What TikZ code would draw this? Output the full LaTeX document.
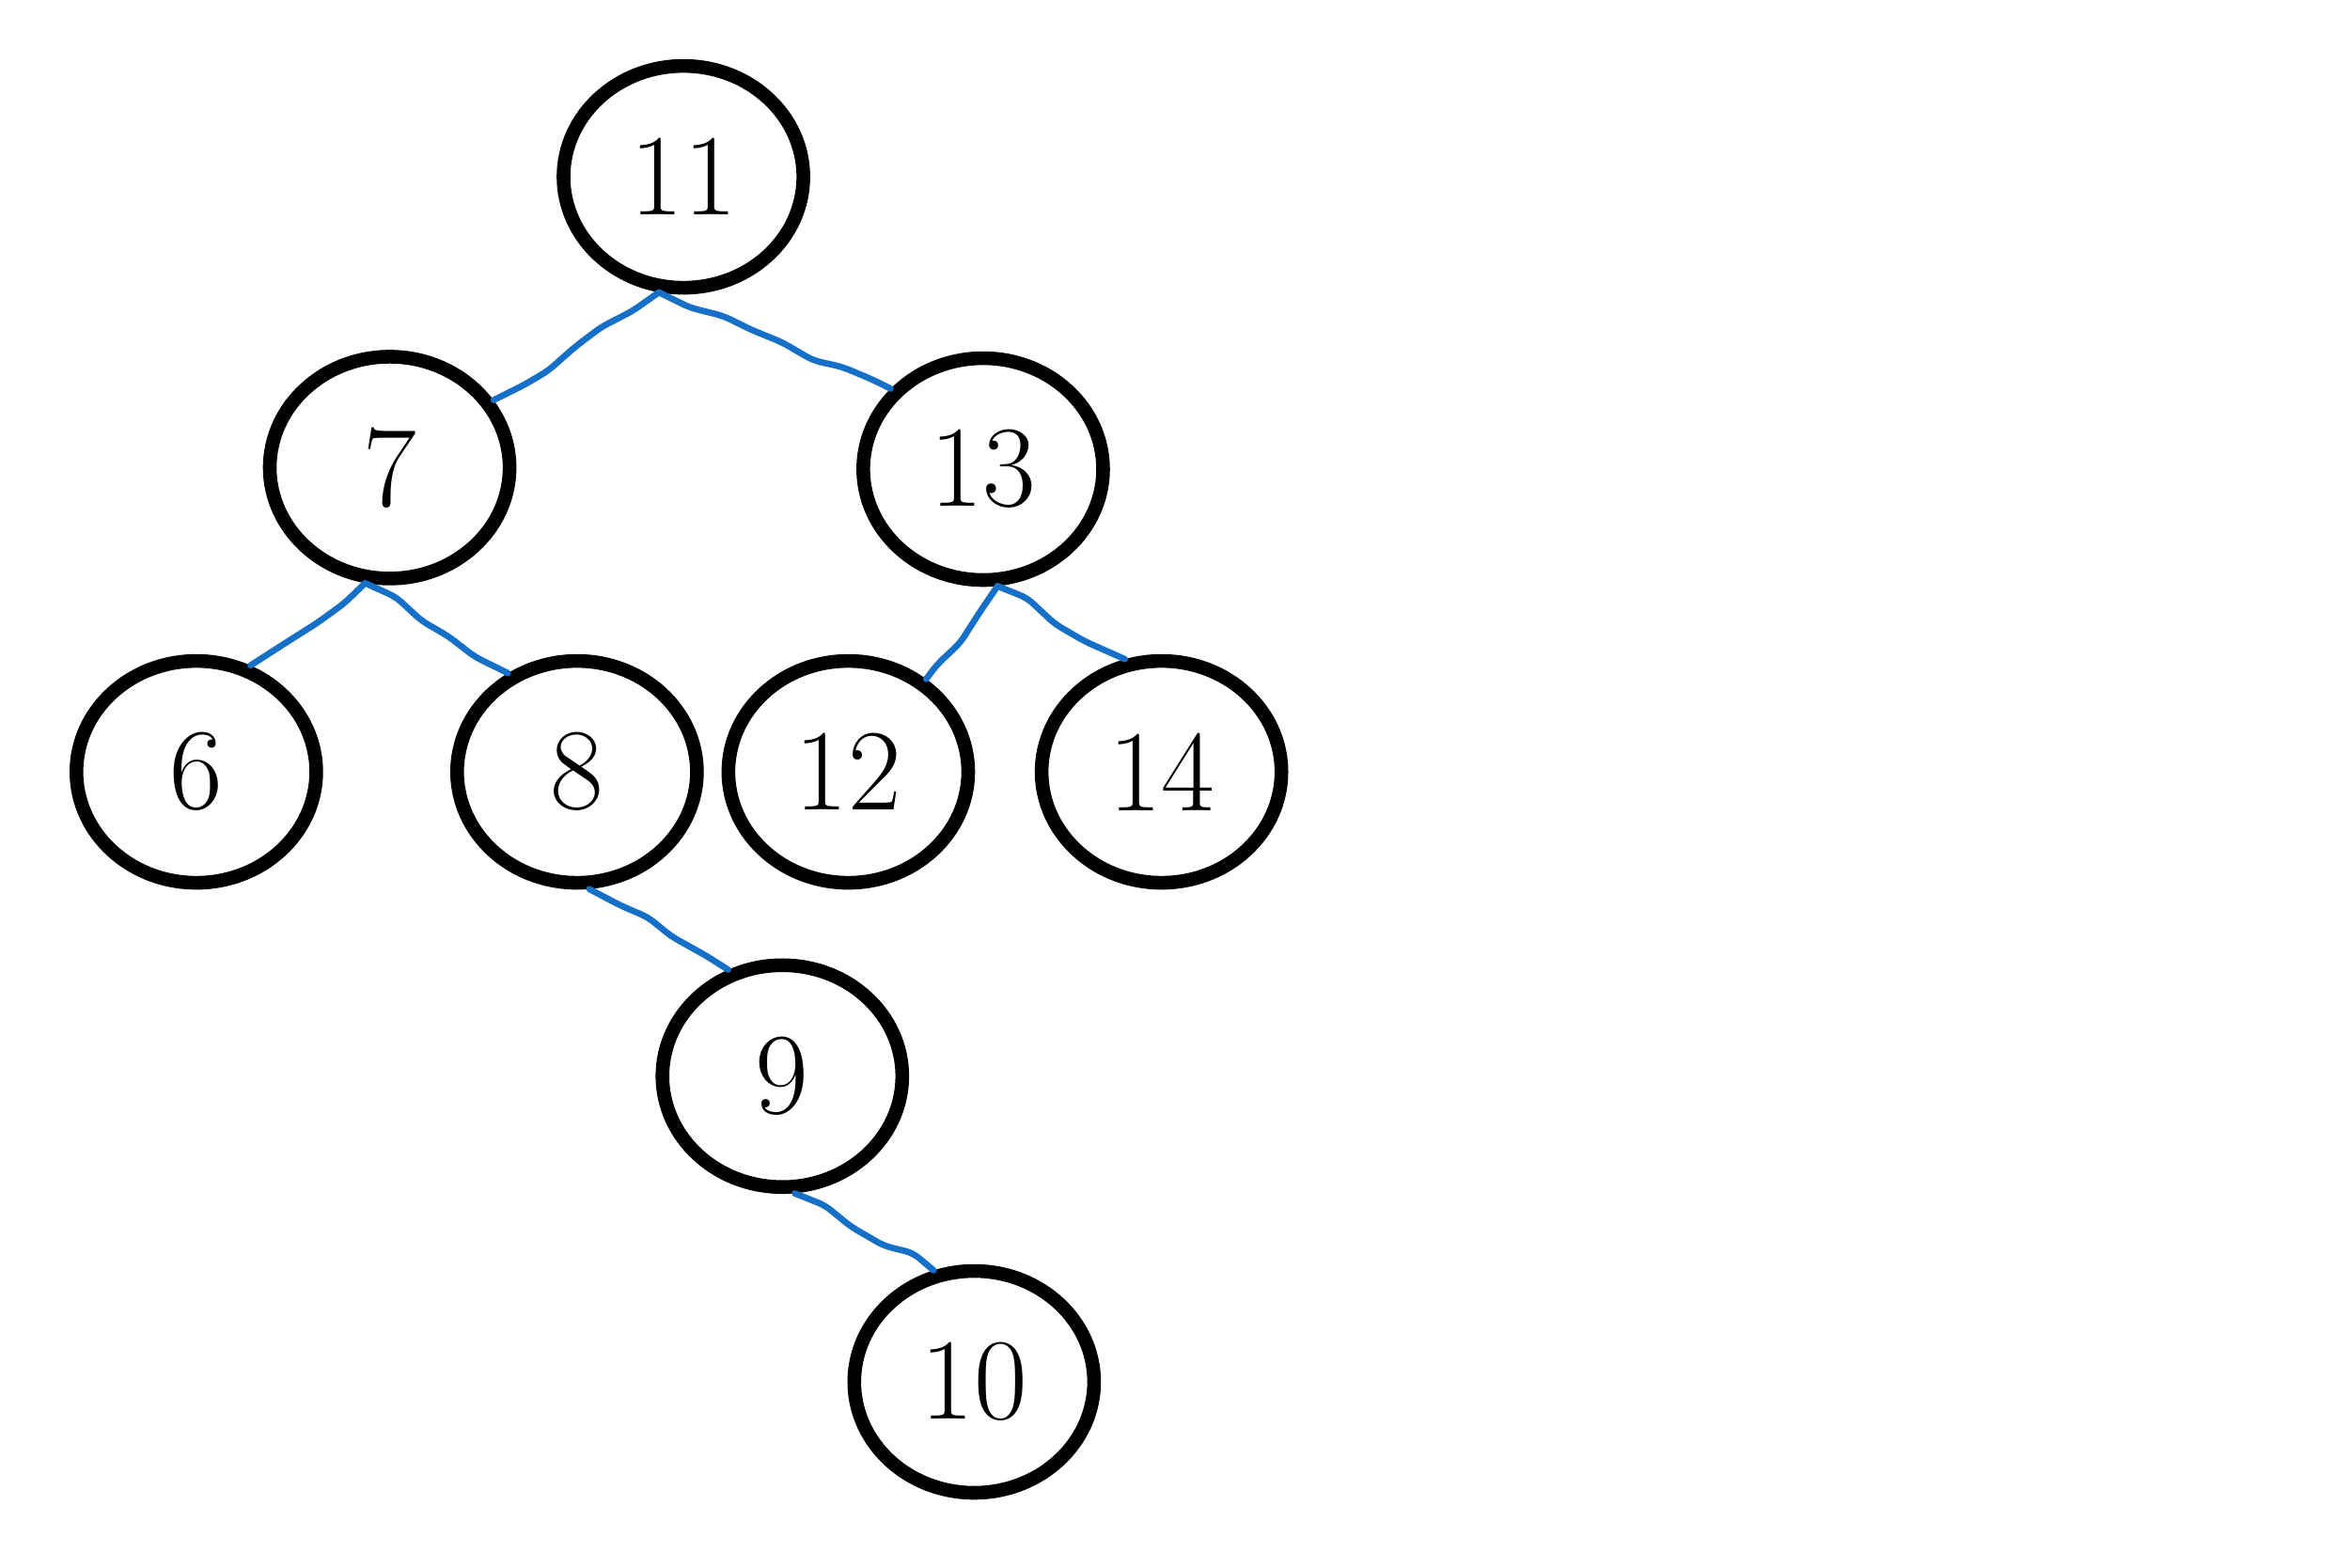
\documentclass[tikz,border=0pt]{standalone}
\usetikzlibrary{shapes.geometric,decorations.pathmorphing}
\definecolor{edgeblue}{RGB}{22,112,200}
\begin{document}
\begin{tikzpicture}[
  key/.style={draw,ellipse,line width=2.6pt,minimum width=1.6cm,minimum height=1.48cm,inner sep=0pt,font=\fontsize{22}{26}\selectfont},
  link/.style={edgeblue,line width=1.2pt,line cap=round,line join=round,rounded corners=0.5mm,decorate,decoration={random steps,segment length=2.2mm,amplitude=0.35mm}}]
\pgfmathsetseed{7}
\useasboundingbox (0,0) rectangle (15.68,-10.46);
% tree keys
\node[key] (n11) at (4.56,-1.18) {11};
\node[key] (n7)  at (2.60,-3.12) {7};
\node[key] (n13) at (6.56,-3.13) {13};
\node[key] (n6)  at (1.31,-5.15) {6};
\node[key] (n8)  at (3.85,-5.15) {8};
\node[key] (n12) at (5.66,-5.15) {12};
\node[key] (n14) at (7.75,-5.15) {14};
\node[key] (n9)  at (5.22,-7.18) {9};
\node[key] (n10) at (6.50,-9.22) {10};
% parent -> child links
\foreach \a/\b/\s/\e in {n11/n7/258/33,n11/n13/258/139,n7/n6/258/63,n7/n8/258/125,
  n13/n12/277/50,n13/n14/277/108,n8/n9/276/117,n9/n10/276/110}
  {\draw[link] (\a.\s) -- (\b.\e);}
\end{tikzpicture}
\end{document}
